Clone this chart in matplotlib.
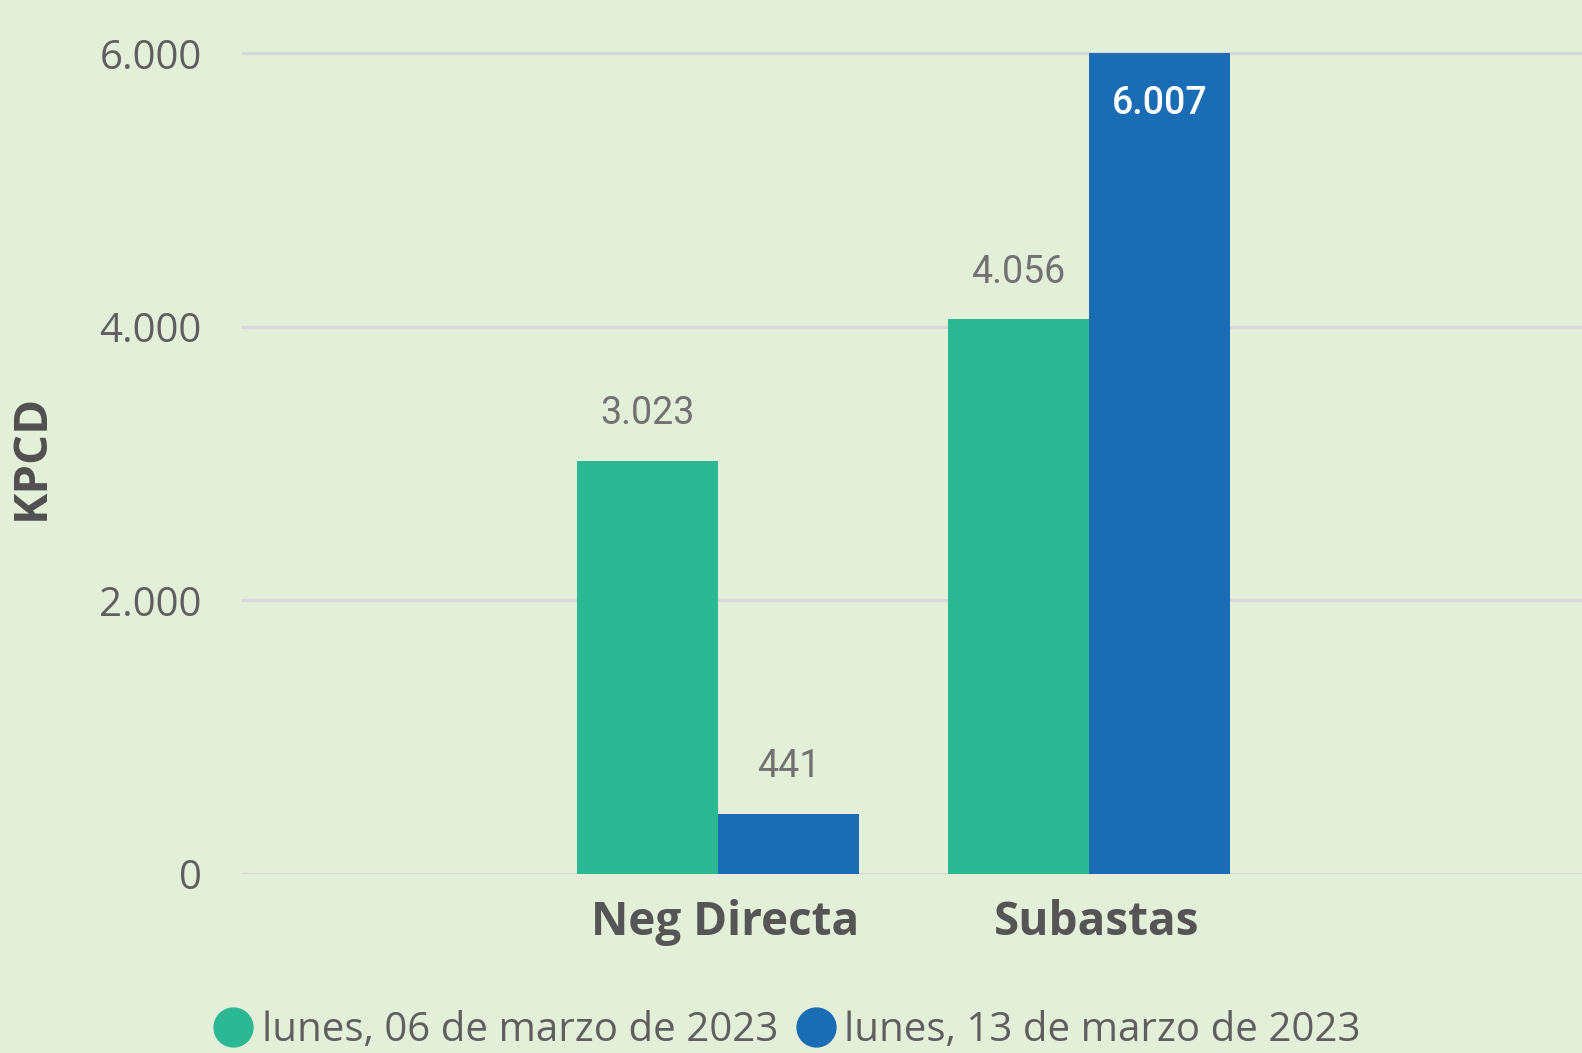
import numpy as np
import matplotlib.pyplot as plt
from matplotlib.lines import Line2D

# datos
categorias = ['Neg Directa', 'Subastas']
serie_06 = [3023, 4056]
serie_13 = [441, 6007]
leyenda = ['lunes, 06 de marzo de 2023', 'lunes, 13 de marzo de 2023']
yticks = [0, 2000, 4000, 6000]
ytick_labels = ['0', '2.000', '4.000', '6.000']

verde = '#2DB894'
azul = '#1A6DB5'
fondo = '#E3EFD9'
gris_txt = '#5F5F5F'

plt.rcParams['font.family'] = ['Open Sans', 'DejaVu Sans']

fig = plt.figure(figsize=(15.82, 10.53), dpi=100, facecolor=fondo)
ax = fig.add_axes([242 / 1582, 1 - 874 / 1053, 1 - 242 / 1582, (874 - 39.8) / 1053])
ax.set_facecolor(fondo)

x = np.arange(len(categorias))
w = 0.381
b1 = ax.bar(x - w / 2, serie_06, w, color=verde, zorder=3)
b2 = ax.bar(x + w / 2, serie_13, w, color=azul, zorder=3)

ax.set_xlim(-1.284, 2.33)
ax.set_ylim(0, 6100)
ax.set_yticks(yticks)
ax.set_yticklabels(ytick_labels)
ax.set_xticks(x + 0.02)
ax.set_xticklabels(categorias, fontweight='bold')

for s in ax.spines.values():
    s.set_visible(False)
ax.grid(axis='y', color='#D8D8DC', linewidth=2.2, zorder=0)
ax.tick_params(axis='y', length=0, pad=29, labelsize=29, labelcolor=gris_txt)
ax.tick_params(axis='x', length=0, pad=18, labelsize=33, labelcolor='#555555')

ax.set_ylabel('KPCD', fontsize=34, fontweight='bold', color='#505050')
ax.yaxis.set_label_coords(-0.1396, 0.5)


def fmt(v):
    return f'{v:,}'.replace(',', '.')


for barras in (b1, b2):
    for bar in barras:
        v = bar.get_height()
        cx = bar.get_x() + bar.get_width() / 2
        if v > 5800:
            ax.annotate(fmt(int(v)), (cx, v), xytext=(0, -37), textcoords='offset points',
                        ha='center', va='center', fontsize=27, color='white',
                        fontweight='medium', family=['Roboto', 'DejaVu Sans'])
        else:
            ax.annotate(fmt(int(v)), (cx, v), xytext=(0, 34), textcoords='offset points',
                        ha='center', va='center', fontsize=27, color='#727272',
                        family=['Roboto', 'DejaVu Sans'])

handles = [Line2D([], [], marker='o', linestyle='none', markersize=28,
                  markerfacecolor=c, markeredgecolor=c) for c in (verde, azul)]
fig.legend(handles, leyenda, loc='center', bbox_to_anchor=(787 / 1582, 1 - 1031 / 1053),
           ncol=2, frameon=False, fontsize=29, labelcolor=gris_txt,
           handletextpad=0.2, columnspacing=0.45, handlelength=1.0)

fig.savefig('out.png', dpi=100, facecolor=fondo)
